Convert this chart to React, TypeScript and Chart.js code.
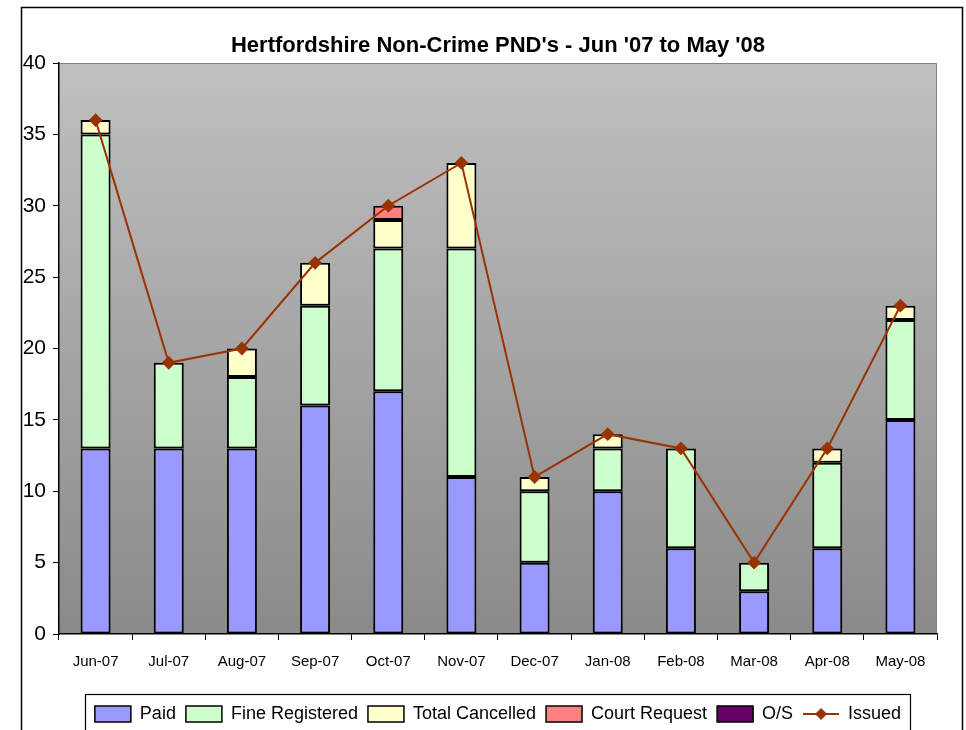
import React, { useEffect, useRef } from "react";
import { Chart, registerables } from "chart.js";

Chart.register(...registerables);

const months = ["Jun-07", "Jul-07", "Aug-07", "Sep-07", "Oct-07", "Nov-07", "Dec-07", "Jan-08", "Feb-08", "Mar-08", "Apr-08", "May-08"];
const paid = [13, 13, 13, 16, 17, 11, 5, 10, 6, 3, 6, 15];
const fineRegistered = [22, 6, 5, 7, 10, 16, 5, 3, 7, 2, 6, 7];
const totalCancelled = [1, 0, 2, 3, 2, 6, 1, 1, 0, 0, 1, 1];
const courtRequest = [0, 0, 0, 0, 1, 0, 0, 0, 0, 0, 0, 0];
const outstanding = [0, 0, 0, 0, 0, 0, 0, 0, 0, 0, 0, 0];
const issued = [36, 19, 20, 26, 30, 33, 11, 14, 13, 5, 13, 23];
const titleText = "Hertfordshire Non-Crime PND's - Jun '07 to May '08";

const FONT = "'Liberation Sans Narrow', 'Arial Narrow', 'Liberation Sans', Arial, sans-serif";
const W = 966;
const H = 733;

export default function App() {
  const ref = useRef<HTMLCanvasElement | null>(null);

  useEffect(() => {
    const canvas = ref.current;
    if (!canvas) return;

    const lineIcon = document.createElement("canvas");
    lineIcon.width = 36;
    lineIcon.height = 16;
    const lc = lineIcon.getContext("2d")!;
    lc.strokeStyle = "#993300";
    lc.lineWidth = 2;
    lc.beginPath();
    lc.moveTo(0, 8);
    lc.lineTo(36, 8);
    lc.stroke();
    lc.fillStyle = "#993300";
    lc.beginPath();
    lc.moveTo(18, 2);
    lc.lineTo(24, 8);
    lc.lineTo(18, 14);
    lc.lineTo(12, 8);
    lc.closePath();
    lc.fill();

    const decor = {
      id: "decor",
      beforeDraw(chart: any) {
        const { ctx, chartArea } = chart;
        const { left, right, top, bottom } = chartArea;
        ctx.save();
        ctx.fillStyle = "#ffffff";
        ctx.fillRect(0, 0, chart.width, chart.height);
        const g = ctx.createLinearGradient(0, top, 0, bottom);
        g.addColorStop(0, "#c0c0c0");
        g.addColorStop(1, "#8a8a8a");
        ctx.fillStyle = g;
        ctx.fillRect(left, top, right - left, bottom - top);
        ctx.strokeStyle = "#808080";
        ctx.lineWidth = 1;
        ctx.beginPath();
        ctx.moveTo(left, top + 0.5);
        ctx.lineTo(right - 0.5, top + 0.5);
        ctx.lineTo(right - 0.5, bottom);
        ctx.stroke();
        ctx.restore();
      },
      afterDraw(chart: any) {
        const { ctx } = chart;
        ctx.save();
        ctx.strokeStyle = "#000000";
        ctx.lineWidth = 1.5;
        ctx.strokeRect(21.5, 7.5, 941, chart.height + 20);
        const boxes = chart.legend?.legendHitBoxes || [];
        if (boxes.length) {
          let minL = Infinity;
          let maxR = -Infinity;
          boxes.forEach((b: any) => {
            minL = Math.min(minL, b.left);
            maxR = Math.max(maxR, b.left + b.width);
          });
          ctx.lineWidth = 1.2;
          ctx.strokeRect(Math.round(minL - 10) + 0.5, Math.round(chart.legend.top - 1) + 0.5, Math.round(maxR - minL + 19), 100);
        }
        ctx.restore();
      },
    };

    const barCommon = {
      borderColor: "#000000",
      borderWidth: 2,
      borderSkipped: false as const,
      barPercentage: 0.41,
      categoryPercentage: 1,
      stack: "s",
    };

    const chart = new Chart(canvas, {
      type: "bar",
      data: {
        labels: months,
        datasets: [
          { ...barCommon, label: "Paid", data: paid, backgroundColor: "#9999ff" },
          { ...barCommon, label: "Fine Registered", data: fineRegistered, backgroundColor: "#ccffcc" },
          { ...barCommon, label: "Total Cancelled", data: totalCancelled, backgroundColor: "#ffffcc" },
          { ...barCommon, label: "Court Request", data: courtRequest, backgroundColor: "#ff8080" },
          { ...barCommon, label: "O/S", data: outstanding, backgroundColor: "#660066" },
          {
            type: "line" as const,
            label: "Issued",
            data: issued,
            stack: "issued",
            order: -1,
            borderColor: "#993300",
            backgroundColor: "#993300",
            borderWidth: 2,
            pointStyle: "rectRot",
            pointRadius: 5.5,
            pointBackgroundColor: "#993300",
            pointBorderColor: "#993300",
            tension: 0,
          } as any,
        ],
      },
      options: {
        responsive: false,
        animation: false,
        layout: { padding: { top: 33, left: 20, right: 29, bottom: 0 } },
        plugins: {
          tooltip: { enabled: false },
          title: {
            display: true,
            fullSize: false,
            text: titleText,
            color: "#000000",
            font: { family: FONT, size: 22, weight: "bold" },
            padding: { top: 0, bottom: 3.6 },
          },
          legend: {
            display: true,
            fullSize: false,
            position: "bottom",
            labels: {
              color: "#000000",
              font: { family: FONT, size: 18 },
              usePointStyle: true,
              pointStyleWidth: 36,
              boxHeight: 16,
              padding: 10,
              generateLabels: (ch: any) => {
                const items = (Chart.defaults.plugins.legend.labels as any).generateLabels(ch);
                return items
                  .map((it: any) => {
                    const ds: any = ch.data.datasets[it.datasetIndex];
                    if (ds.type === "line") {
                      return { ...it, pointStyle: lineIcon, rotation: 0 };
                    }
                    return { ...it, pointStyle: "rect", rotation: 0, strokeStyle: "#000000", lineWidth: 1.5 };
                  })
                  .sort((a: any, b: any) => a.datasetIndex - b.datasetIndex);
              },
            },
          },
        },
        scales: {
          x: {
            stacked: true,
            grid: { display: true, drawOnChartArea: false, drawTicks: true, tickLength: 6, color: "#000000", offset: true },
            border: { display: true, color: "#000000", width: 1.5 },
            ticks: { color: "#000000", font: { family: FONT, size: 15 }, padding: 13, maxRotation: 0 },
            afterFit: (s: any) => {
              s.height = 61;
            },
          },
          y: {
            stacked: true,
            min: 0,
            max: 40,
            grid: { display: true, drawOnChartArea: false, drawTicks: true, tickLength: 6, color: "#000000" },
            border: { display: true, color: "#000000", width: 1.5 },
            ticks: { stepSize: 5, color: "#000000", font: { family: FONT, size: 21 }, padding: 7 },
            afterFit: (s: any) => {
              s.width = 39;
            },
          },
        },
      },
      plugins: [decor],
    });

    return () => {
      chart.destroy();
    };
  }, []);

  return (
    <div style={{ position: "absolute", left: 0, top: 0, width: W, height: H, background: "#ffffff" }}>
      <canvas ref={ref} width={W} height={H} style={{ display: "block", width: W, height: H }} />
    </div>
  );
}
